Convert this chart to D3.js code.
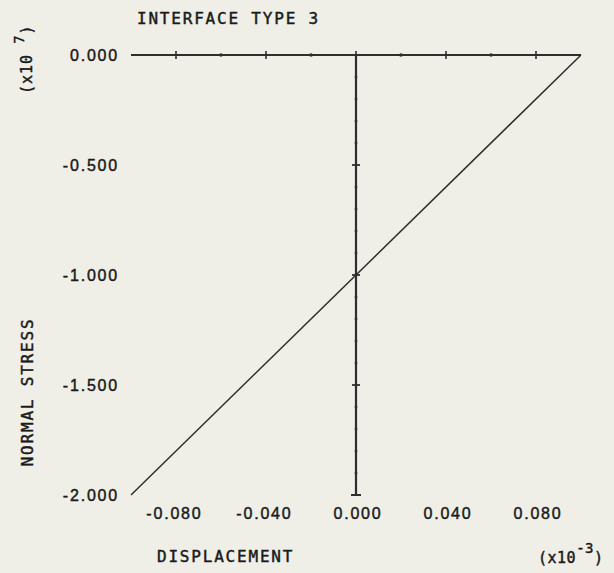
<!DOCTYPE html>
<html>
<head>
<meta charset="utf-8">
<script src="https://cdn.jsdelivr.net/npm/d3@7"></script>
<style>
  body { margin: 0; background: #efefe8; }
  svg { display: block; font-family: "DejaVu Sans Mono", monospace; }
  text { stroke: #1a1a1a; stroke-width: 0.45px; }
</style>
</head>
<body>
<svg id="chart" width="614" height="573"></svg>
<script>
// displacement (x10^-3) vs normal stress (x10^7)
const dispValues = [-0.1, 0.1];
const stressValues = [-2.0, 0.0];

const xTickValues = [-0.08, -0.04, 0, 0.04, 0.08];
const xTickLabels = ['-0.080', '-0.040', '0.000', '0.040', '0.080'];
const xMinorValues = [-0.06, -0.02, 0.02, 0.06];

const yTickValues = [0, -0.5, -1.0, -1.5, -2.0];
const yTickLabels = ['0.000', '-0.500', '-1.000', '-1.500', '-2.000'];
const yMinorValues = [-0.1, -0.2, -0.3, -0.4, -0.6, -0.7, -0.8, -0.9, -1.1, -1.2, -1.3, -1.4, -1.6, -1.7, -1.8, -1.9];

const ink = '#2e2e2e';
const svg = d3.select('#chart');

const x = d3.scaleLinear().domain([-0.1, 0.1]).range([131, 581]);
const y = d3.scaleLinear().domain([0, -2]).range([55, 495]);

// horizontal axis through stress = 0
const xAxis = svg.append('g')
  .attr('transform', `translate(0,${y(0)})`);
xAxis.append('line')
  .attr('x1', x(-0.1)).attr('x2', x(0.1))
  .attr('stroke', ink).attr('stroke-width', 1.8);
xAxis.selectAll('.major')
  .data(xTickValues)
  .enter()
  .append('line')
  .attr('x1', d => x(d)).attr('x2', d => x(d))
  .attr('y1', -4).attr('y2', 4)
  .attr('stroke', ink).attr('stroke-width', 1.6);
xAxis.selectAll('.minor')
  .data(xMinorValues)
  .enter()
  .append('circle')
  .attr('cx', d => x(d)).attr('r', 1.8)
  .attr('fill', ink);

// vertical axis through displacement = 0
const yAxis = svg.append('g')
  .attr('transform', `translate(${x(0)},0)`);
yAxis.append('line')
  .attr('y1', y(0)).attr('y2', y(-2))
  .attr('stroke', ink).attr('stroke-width', 2.2);
yAxis.selectAll('.major')
  .data(yTickValues.slice(1, 4))
  .enter()
  .append('line')
  .attr('y1', d => y(d)).attr('y2', d => y(d))
  .attr('x1', -4).attr('x2', 4)
  .attr('stroke', ink).attr('stroke-width', 1.8);
yAxis.selectAll('.minor')
  .data(yMinorValues)
  .enter()
  .append('line')
  .attr('y1', d => y(d)).attr('y2', d => y(d))
  .attr('x1', -1.5).attr('x2', 1.5)
  .attr('stroke', ink).attr('stroke-width', 1);
yAxis.append('line')
  .attr('y1', y(-2)).attr('y2', y(-2))
  .attr('x1', -5).attr('x2', 5)
  .attr('stroke', ink).attr('stroke-width', 2);

// the data line
const line = d3.line()
  .x(d => x(d[0]))
  .y(d => y(d[1]));
svg.append('path')
  .datum(dispValues.map((d, i) => [d, stressValues[i]]))
  .attr('d', line)
  .attr('fill', 'none')
  .attr('stroke', ink)
  .attr('stroke-width', 1.5);

// tick labels
const labelStyle = sel => sel
  .attr('fill', '#1a1a1a')
  .style('font-size', '16px')
  .style('letter-spacing', '1.8px');

svg.append('g')
  .attr('transform', 'translate(119,0)')
  .call(d3.axisLeft(y).tickValues(yTickValues)
    .tickFormat((d, i) => yTickLabels[i]).tickSize(0).tickPadding(0))
  .call(g => g.select('.domain').remove())
  .call(g => g.selectAll('text')
    .attr('dy', '0.35em').attr('font-family', null).attr('font-size', null)
    .call(labelStyle));

svg.append('g')
  .attr('transform', 'translate(0,507)')
  .call(d3.axisBottom(x).tickValues(xTickValues)
    .tickFormat((d, i) => xTickLabels[i]).tickSize(0).tickPadding(0))
  .call(g => g.select('.domain').remove())
  .call(g => g.selectAll('text')
    .attr('text-anchor', 'end').attr('dx', 26).attr('dy', '0.75em')
    .attr('font-family', null).attr('font-size', null)
    .call(labelStyle));

// titles
svg.append('text')
  .attr('x', 137).attr('y', 24)
  .text('INTERFACE TYPE 3')
  .call(labelStyle);

svg.append('text')
  .attr('x', 157).attr('y', 562)
  .text('DISPLACEMENT')
  .call(labelStyle);

svg.append('text')
  .attr('transform', 'translate(33,392) rotate(-90)')
  .attr('text-anchor', 'middle')
  .text('NORMAL STRESS')
  .call(labelStyle);

const yExp = svg.append('text')
  .attr('transform', 'translate(32,94) rotate(-90)')
  .attr('fill', '#1a1a1a')
  .style('font-size', '15px')
  .style('letter-spacing', '1px');
yExp.append('tspan').text('(x10 ');
yExp.append('tspan').attr('dy', -8).style('font-size', '14px').text('7');
yExp.append('tspan').attr('dy', 8).text(')');

const xExp = svg.append('text')
  .attr('x', 538).attr('y', 563)
  .attr('fill', '#1a1a1a')
  .style('font-size', '15px')
  .style('letter-spacing', '0.5px');
xExp.append('tspan').text('(x10');
xExp.append('tspan').attr('dy', -10).style('font-size', '14px').text('-3');
xExp.append('tspan').attr('dy', 10).text(')');
</script>
</body>
</html>
